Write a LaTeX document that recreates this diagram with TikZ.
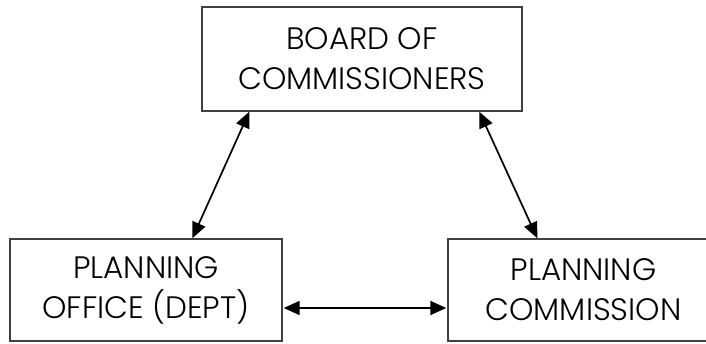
\documentclass[tikz,border=0pt]{standalone}
\usepackage{fontspec}
\setmainfont{Poppins Light}
\usetikzlibrary{arrows.meta}
\begin{document}
\begin{tikzpicture}[x=1pt,y=-1pt,
  box/.style={draw=black!75,line width=1.4pt,minimum width=#1,align=center,inner sep=0pt,
    font=\fontsize{31}{40}\selectfont},
  link/.style={line width=1.7pt,{Triangle[length=16pt,width=14pt]}-{Triangle[length=16pt,width=14pt]}}]
\useasboundingbox (0,0) rectangle (706,343);
\node[box=320pt,minimum height=104pt] (bc) at (362,59) {BOARD OF\\COMMISSIONERS};
\node[box=272pt,minimum height=102pt] (po) at (146,290) {PLANNING\\OFFICE (DEPT)};
\node[box=271pt,minimum height=102pt] (pc) at (583.5,290) {PLANNING\\COMMISSION};
\draw[link] ([xshift=48pt]bc.south west) -- ([xshift=183pt]po.north west);
\draw[link] ([xshift=278pt]bc.south west) -- ([xshift=90pt]pc.north west);
\draw[link] ([xshift=1pt,yshift=-18pt]po.east) -- ([xshift=-1pt,yshift=-18pt]pc.west);
\end{tikzpicture}
\end{document}
